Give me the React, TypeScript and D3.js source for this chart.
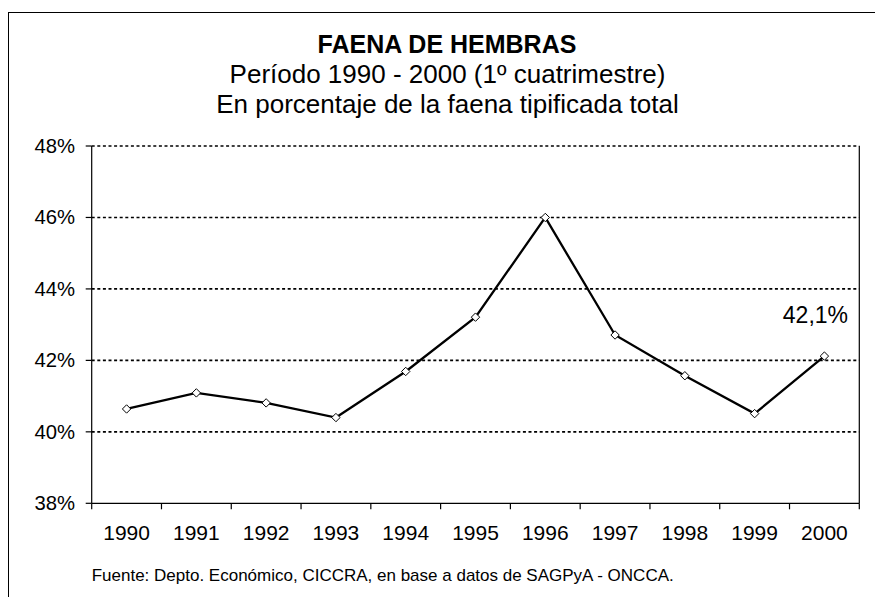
import React from "react";
import * as d3 from "d3";

const years = ["1990","1991","1992","1993","1994","1995","1996","1997","1998","1999","2000"];
const values = [40.64, 41.09, 40.81, 40.40, 41.69, 43.21, 46.0, 42.71, 41.57, 40.51, 42.12];
const yTicks = [38, 40, 42, 44, 46, 48];
const titleLines = ["Período 1990 - 2000 (1º cuatrimestre)", "En porcentaje de la faena tipificada total"];
const title = "FAENA DE HEMBRAS";
const source = "Fuente: Depto. Económico, CICCRA, en base a datos de SAGPyA - ONCCA.";
const lastLabel = "42,1%";

const W = 875, H = 597;
const M = { left: 91.7, right: 859.3, top: 146, bottom: 503.3 };
const FONT = "'Liberation Sans', Arial, sans-serif";

export default function App() {
  const x = d3.scaleBand<string>().domain(years).range([M.left, M.right]).paddingInner(0).paddingOuter(0);
  const y = d3.scaleLinear().domain([38, 48]).range([M.bottom, M.top]);
  const cx = (yr: string) => (x(yr) as number) + x.bandwidth() / 2;
  const line = d3.line<number>().x((_, i) => cx(years[i])).y((d) => y(d));
  const boundaries = [...years.map((yr) => x(yr) as number), M.right];
  const lastI = values.length - 1;

  return (
    <svg width={W} height={H} style={{ position: "absolute", left: 0, top: 0, background: "#fff" }} fontFamily={FONT}>
      <rect x={8.5} y={12.5} width={900} height={700} fill="#fff" stroke="#000" strokeWidth={1} />
      <text x={447} y={52.5} textAnchor="middle" fontSize={25} fontWeight="bold">{title}</text>
      {titleLines.map((t, i) => (
        <text key={t} x={447.5} y={82.5 + i * 30.5} textAnchor="middle" fontSize={26}>{t}</text>
      ))}
      {yTicks.filter((t) => t > 38).map((t) => (
        <line key={t} x1={M.left} x2={M.right} y1={y(t)} y2={y(t)} stroke="#000" strokeWidth={1.6} strokeDasharray="3,2.6" />
      ))}
      <line x1={M.left} x2={M.left} y1={M.top} y2={M.bottom} stroke="#000" strokeWidth={1.2} />
      <line x1={M.right} x2={M.right} y1={M.top} y2={M.bottom} stroke="#000" strokeWidth={1.2} />
      <line x1={M.left} x2={M.right} y1={M.bottom} y2={M.bottom} stroke="#000" strokeWidth={1.2} />
      {yTicks.map((t) => (
        <g key={t}>
          <line x1={M.left - 6} x2={M.left} y1={y(t)} y2={y(t)} stroke="#000" strokeWidth={1.2} />
          <text x={75} y={y(t) + 7} textAnchor="end" fontSize={20.3}>{t}%</text>
        </g>
      ))}
      {boundaries.map((b, i) => (
        <line key={i} x1={b} x2={b} y1={M.bottom} y2={M.bottom + 6} stroke="#000" strokeWidth={1.2} />
      ))}
      {years.map((yr) => (
        <text key={yr} x={cx(yr)} y={540} textAnchor="middle" fontSize={21}>{yr}</text>
      ))}
      <path d={line(values) || ""} fill="none" stroke="#000" strokeWidth={2.3} />
      {values.map((v, i) => {
        const px = cx(years[i]), py = y(v);
        return (
          <path key={i} d={`M${px},${py - 4.2}L${px + 4.2},${py}L${px},${py + 4.2}L${px - 4.2},${py}Z`} fill="#fff" stroke="#000" strokeWidth={1} />
        );
      })}
      <text x={cx(years[lastI]) - 9} y={y(values[lastI]) - 33} textAnchor="middle" fontSize={23}>{lastLabel}</text>
      <text x={91.7} y={580.5} fontSize={17}>{source}</text>
    </svg>
  );
}
